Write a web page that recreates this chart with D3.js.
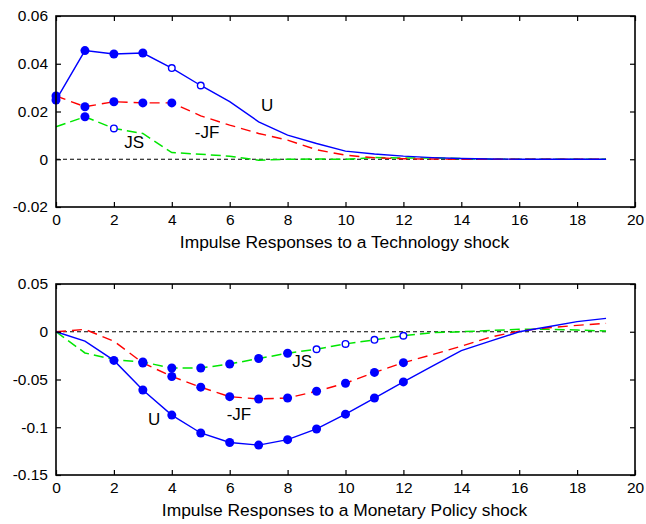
<!DOCTYPE html>
<html>
<head>
  <meta charset="UTF-8">
  <title>Impulse Responses</title>
  <style>
    body { margin: 0; background: #fff; }
    svg { display: block; font-family: "Liberation Sans", Arial, sans-serif; }
  </style>
</head>
<body>
  <svg id="chart" width="646" height="524"></svg>

  <script src="https://d3js.org/d3.v7.min.js"></script>
  <script>
    // horizons 0..19
    var horizons = d3.range(0, 20);

    // Technology shock
    var techU  = [0.0248, 0.0455, 0.0441, 0.0445, 0.0382, 0.0309, 0.0241, 0.0157, 0.0101, 0.0066,
                  0.0034, 0.0022, 0.0013, 0.0007, 0.0003, 0.0001, 0, 0, 0, 0];
    var techJF = [0.0265, 0.0220, 0.0241, 0.0236, 0.0236, 0.0182, 0.0143, 0.0108, 0.0080, 0.0040,
                  0.0017, 0.0006, 0.0002, 0.0001, 0, 0, 0, 0, 0, 0];
    var techJS = [0.0136, 0.0178, 0.0129, 0.0108, 0.0028, 0.0021, 0.0013, -0.0004, 0, 0.0001,
                  0, 0.0007, 0.0005, 0.0005, 0.0003, 0, 0, 0, 0, 0];
    // marker per point: 1 = filled, 2 = open, 0 = none
    var techUMark  = [1, 1, 1, 1, 2, 2, 0, 0, 0, 0, 0, 0, 0, 0, 0, 0, 0, 0, 0, 0];
    var techJFMark = [1, 1, 1, 1, 1, 0, 0, 0, 0, 0, 0, 0, 0, 0, 0, 0, 0, 0, 0, 0];
    var techJSMark = [0, 1, 2, 0, 0, 0, 0, 0, 0, 0, 0, 0, 0, 0, 0, 0, 0, 0, 0, 0];

    // Monetary policy shock
    var monU  = [0, -0.0099, -0.0300, -0.0610, -0.0873, -0.1060, -0.1160, -0.1187, -0.1130, -0.1018,
                 -0.0863, -0.0694, -0.0525, -0.0360, -0.0197, -0.0099, 0, 0.0053, 0.0106, 0.0140];
    var monJF = [0, 0.0025, -0.0099, -0.0327, -0.0468, -0.0580, -0.0680, -0.0704, -0.0694, -0.0623,
                 -0.0539, -0.0426, -0.0324, -0.0240, -0.0151, -0.0056, 0.0007, 0.0042, 0.0067, 0.0088];
    var monJS = [0, -0.0222, -0.0292, -0.0317, -0.0380, -0.0380, -0.0338, -0.0280, -0.0225, -0.0183,
                 -0.0127, -0.0085, -0.0042, -0.0010, 0, 0.0014, 0.0025, 0.0025, 0.0018, 0.0007];
    var monUMark  = [0, 0, 1, 1, 1, 1, 1, 1, 1, 1, 1, 1, 1, 0, 0, 0, 0, 0, 0, 0];
    var monJFMark = [0, 0, 0, 1, 1, 1, 1, 1, 1, 1, 1, 1, 1, 0, 0, 0, 0, 0, 0, 0];
    var monJSMark = [0, 0, 0, 1, 1, 1, 1, 1, 1, 2, 2, 2, 2, 0, 0, 0, 0, 0, 0, 0];

    var xTicks = d3.range(0, 21, 2);
    var techTicks = [-0.02, 0, 0.02, 0.04, 0.06];
    var monTicks = [-0.15, -0.1, -0.05, 0, 0.05];

    var titles = ["Impulse Responses to a Technology shock", "Impulse Responses to a Monetary Policy shock"];

    // series labels placed in data units
    var techLabels = [{t: "U", x: 7.29, y: 0.0227}, {t: "-JF", x: 5.22, y: 0.0114}, {t: "JS", x: 2.7, y: 0.0072}];
    var monLabels  = [{t: "JS", x: 8.5, y: -0.0307}, {t: "-JF", x: 6.32, y: -0.0863}, {t: "U", x: 3.39, y: -0.0913}];

    var svg = d3.select("#chart");
    var left = 56, right = 635;

    var panels = [
      {top: 16, bottom: 207, domain: [-0.02, 0.06], ticks: techTicks, title: titles[0], labels: techLabels,
       series: [
         {v: techJS, m: techJSMark, color: "#00e600", dash: "10,5", w: 1.5},
         {v: techJF, m: techJFMark, color: "#ff0000", dash: "10,6", w: 1.4},
         {v: techU,  m: techUMark,  color: "#0000ff", dash: null, w: 1.4}
       ]},
      {top: 284, bottom: 475, domain: [-0.15, 0.05], ticks: monTicks, title: titles[1], labels: monLabels,
       series: [
         {v: monJS, m: monJSMark, color: "#00e600", dash: "10,5", w: 1.5},
         {v: monJF, m: monJFMark, color: "#ff0000", dash: "10,6", w: 1.4},
         {v: monU,  m: monUMark,  color: "#0000ff", dash: null, w: 1.4}
       ]}
    ];

    function fmt(d) {
      if (Math.abs(d) < 1e-9) return "0";
      return String(+d.toFixed(3));
    }

    panels.forEach(function(p) {
      var x = d3.scaleLinear().domain([0, 20]).range([left, right]);
      var y = d3.scaleLinear().domain(p.domain).range([p.bottom, p.top]);
      var g = svg.append("g");

      // zero reference line
      g.append("line")
        .attr("x1", x(0)).attr("x2", x(19))
        .attr("y1", y(0)).attr("y2", y(0))
        .attr("stroke", "#000").attr("stroke-width", 1.1)
        .attr("stroke-dasharray", "4,3");

      var line = d3.line()
        .x(function(d, i) { return x(horizons[i]); })
        .y(function(d) { return y(d); });

      p.series.forEach(function(s) {
        g.append("path")
          .attr("d", line(s.v))
          .attr("fill", "none")
          .attr("stroke", s.color)
          .attr("stroke-width", s.w)
          .attr("stroke-dasharray", s.dash);
      });

      // markers (always blue)
      p.series.forEach(function(s) {
        s.v.forEach(function(d, i) {
          if (!s.m[i]) return;
          var c = g.append("circle")
            .attr("cx", x(horizons[i])).attr("cy", y(d));
          if (s.m[i] == 1) {
            c.attr("r", 4.5).attr("fill", "#0000ff");
          } else {
            c.attr("r", 3.3).attr("fill", "#fff").attr("stroke", "#0000ff").attr("stroke-width", 1.4);
          }
        });
      });

      // axes, matlab style: ticks inward, mirrored on top and right
      g.append("g")
        .attr("transform", "translate(0," + p.bottom + ")")
        .call(d3.axisBottom(x).tickValues(xTicks).tickSizeInner(-5).tickSizeOuter(0).tickPadding(7))
        .call(function(a) { a.select(".domain").remove(); });
      g.append("g")
        .attr("transform", "translate(0," + p.top + ")")
        .call(d3.axisTop(x).tickValues(xTicks).tickSizeInner(-5).tickSizeOuter(0).tickFormat(""))
        .call(function(a) { a.select(".domain").remove(); });
      g.append("g")
        .attr("transform", "translate(" + left + ",0)")
        .call(d3.axisLeft(y).tickValues(p.ticks).tickSizeInner(-5).tickSizeOuter(0).tickPadding(8).tickFormat(fmt))
        .call(function(a) { a.select(".domain").remove(); });
      g.append("g")
        .attr("transform", "translate(" + right + ",0)")
        .call(d3.axisRight(y).tickValues(p.ticks).tickSizeInner(-5).tickSizeOuter(0).tickFormat(""))
        .call(function(a) { a.select(".domain").remove(); });

      g.selectAll(".tick line").attr("stroke", "#000").attr("stroke-width", 1.2);
      g.selectAll(".tick text").attr("fill", "#000").style("font-size", "15.5px")
        .style("font-family", "'Liberation Sans', Arial, sans-serif");

      g.append("rect")
        .attr("x", left).attr("y", p.top)
        .attr("width", right - left).attr("height", p.bottom - p.top)
        .attr("fill", "none").attr("stroke", "#000").attr("stroke-width", 1.6);

      g.selectAll(".lbl")
        .data(p.labels)
        .enter().append("text")
          .attr("x", function(d) { return x(d.x); })
          .attr("y", function(d) { return y(d.y); })
          .attr("text-anchor", "middle")
          .attr("dy", "0.36em")
          .style("font-size", "17px")
          .text(function(d) { return d.t; });

      g.append("text")
        .attr("x", (left + right) / 2 - 1)
        .attr("y", p.bottom + 41)
        .attr("text-anchor", "middle")
        .style("font-size", "17.4px")
        .text(p.title);
    });
  </script>
</body>
</html>
